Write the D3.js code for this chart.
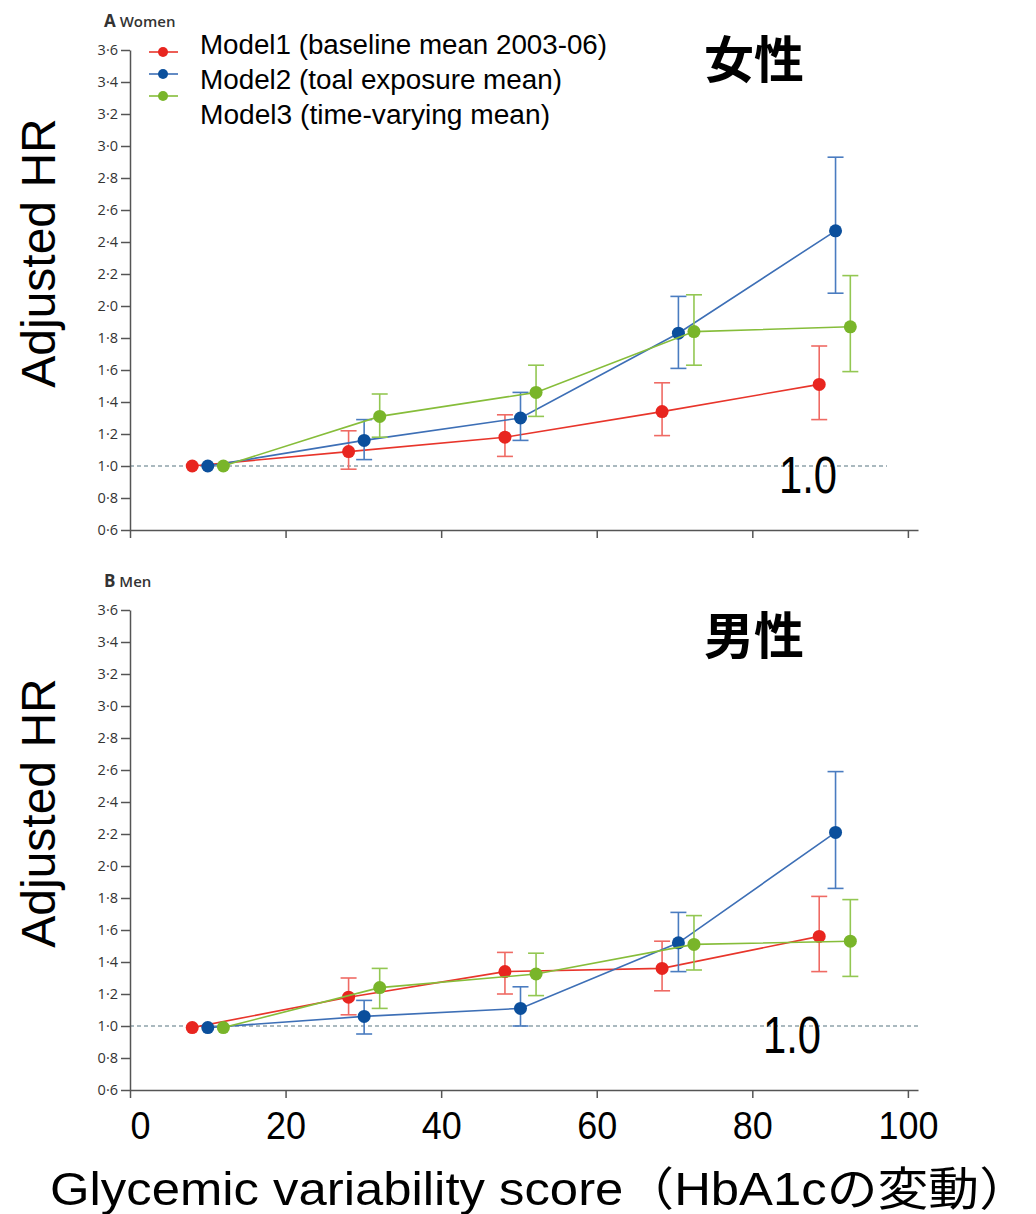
<!DOCTYPE html>
<html>
<head>
<meta charset="utf-8">
<script src="https://cdn.jsdelivr.net/npm/d3@7"></script>
<style>
  body { margin: 0; background: #fff; }
  .tick text { font-family: "Open Sans", sans-serif; }
</style>
</head>
<body>
<svg id="chart"></svg>
<script>
const w = 1036, h = 1214;

// x positions of each model's points (score)
const xModel1 = [8, 28.1, 48.2, 68.4, 88.6];
const xModel2 = [10, 30.1, 50.2, 70.5, 90.7];
const xModel3 = [12, 32.1, 52.2, 72.5, 92.6];

// women
const womenHR1 = [1.0, 1.09, 1.18, 1.34, 1.51];
const womenLo1 = [null, 0.98, 1.06, 1.19, 1.29];
const womenHi1 = [null, 1.22, 1.32, 1.52, 1.75];
const womenHR2 = [1.0, 1.16, 1.30, 1.83, 2.47];
const womenLo2 = [null, 1.04, 1.16, 1.61, 2.08];
const womenHi2 = [null, 1.29, 1.46, 2.06, 2.93];
const womenHR3 = [1.0, 1.31, 1.46, 1.84, 1.87];
const womenLo3 = [null, 1.18, 1.31, 1.63, 1.59];
const womenHi3 = [null, 1.45, 1.63, 2.07, 2.19];

// men
const menHR1 = [0.99, 1.18, 1.34, 1.36, 1.56];
const menLo1 = [null, 1.07, 1.20, 1.22, 1.34];
const menHi1 = [null, 1.30, 1.46, 1.53, 1.81];
const menHR2 = [0.99, 1.06, 1.11, 1.52, 2.21];
const menLo2 = [null, 0.95, 1.00, 1.34, 1.86];
const menHi2 = [null, 1.16, 1.245, 1.71, 2.59];
const menHR3 = [0.99, 1.24, 1.325, 1.51, 1.53];
const menLo3 = [null, 1.11, 1.19, 1.35, 1.31];
const menHi3 = [null, 1.36, 1.455, 1.69, 1.79];

const yTicks = [0.6, 0.8, 1.0, 1.2, 1.4, 1.6, 1.8, 2.0, 2.2, 2.4, 2.6, 2.8, 3.0, 3.2, 3.4, 3.6];
const xTicks = [0, 20, 40, 60, 80, 100];
const legendLabels = ['Model1 (baseline mean 2003-06)', 'Model2 (toal exposure mean)', 'Model3 (time-varying mean)'];

const lineColors = ['#e8352b', '#3d6fb6', '#86bd3a'];
const dotColors = ['#e8251f', '#0b4f9c', '#79b52a'];
const barColors = ['#ef6a64', '#4a7cc0', '#93c752'];

const chart = d3.select('#chart')
  .attr('width', w)
  .attr('height', h);

const xScale = d3.scaleLinear()
  .domain([0, 101.3])
  .range([130, 918]);

function makePanel(top, bottom, series, refEnd, letter, name, kanji, kanjiY, oneX) {
  const yScale = d3.scaleLinear()
    .domain([0.6, 3.6])
    .range([bottom, top]);

  const g = chart.append('g');

  // reference line at 1.0
  g.append('line')
    .attr('x1', xScale(0))
    .attr('x2', refEnd)
    .attr('y1', yScale(1))
    .attr('y2', yScale(1))
    .style('stroke', '#8fa3ab')
    .style('stroke-width', 1.5)
    .style('stroke-dasharray', '4,3');

  // axes
  const yAxis = g.append('g')
    .attr('transform', `translate(${xScale(0)}, 0)`)
    .call(d3.axisLeft(yScale)
      .tickValues(yTicks)
      .tickSize(9)
      .tickSizeOuter(0)
      .tickPadding(3)
      .tickFormat(d => d.toFixed(1).replace('.', '·')));

  const xAxis = g.append('g')
    .attr('transform', `translate(0, ${bottom})`)
    .call(d3.axisBottom(xScale)
      .tickValues(xTicks)
      .tickSize(8)
      .tickSizeOuter(0)
      .tickFormat(''));

  [yAxis, xAxis].forEach(a => {
    a.selectAll('path, line').style('stroke', '#555').style('stroke-width', 1.5);
    a.selectAll('text').style('font-size', '14.5px').style('fill', '#333');
  });

  // series
  series.forEach((s, k) => {
    const pts = s.hr.map((v, i) => ({ x: s.x[i], hr: v, lo: s.lo[i], hi: s.hi[i] }));

    g.append('path')
      .datum(pts)
      .attr('d', d3.line().x(d => xScale(d.x)).y(d => yScale(d.hr)))
      .style('fill', 'none')
      .style('stroke', lineColors[k])
      .style('stroke-width', 1.6);

    const bars = pts.filter(d => d.lo != null);
    const eb = g.append('g');
    eb.selectAll('line.v')
      .data(bars)
      .join('line')
      .attr('x1', d => xScale(d.x))
      .attr('x2', d => xScale(d.x))
      .attr('y1', d => yScale(d.lo))
      .attr('y2', d => yScale(d.hi))
      .style('stroke', barColors[k])
      .style('stroke-width', 1.6);
    ['lo', 'hi'].forEach(key => {
      eb.selectAll('line.' + key)
        .data(bars)
        .join('line')
        .attr('class', key)
        .attr('x1', d => xScale(d.x) - 8)
        .attr('x2', d => xScale(d.x) + 8)
        .attr('y1', d => yScale(d[key]))
        .attr('y2', d => yScale(d[key]))
        .style('stroke', barColors[k])
        .style('stroke-width', 1.6);
    });

    g.selectAll('circle.m' + k)
      .data(pts)
      .join('circle')
      .attr('class', 'm' + k)
      .attr('cx', d => xScale(d.x))
      .attr('cy', d => yScale(d.hr))
      .attr('r', 6.5)
      .style('fill', dotColors[k]);
  });

  // panel label
  const lab = g.append('text')
    .attr('x', 104)
    .attr('y', top - 23)
    .style('font-family', '"Open Sans", sans-serif')
    .style('fill', '#333');
  lab.append('tspan').text(letter).style('font-size', '17px').style('font-weight', 'bold');
  lab.append('tspan').text(' ' + name).style('font-size', '15px').style('font-weight', '600');

  // big kanji title
  g.append('text')
    .attr('x', 754)
    .attr('y', kanjiY)
    .attr('text-anchor', 'middle')
    .style('font-family', '"Noto Sans CJK JP", sans-serif')
    .style('font-weight', 'bold')
    .style('font-size', '50px')
    .text(kanji);

  // "1.0" annotation
  g.append('text')
    .attr('x', oneX)
    .attr('y', yScale(1) + 27)
    .attr('text-anchor', 'middle')
    .style('font-family', '"Liberation Sans", Arial, sans-serif')
    .style('font-size', '52px')
    .attr('textLength', 58)
    .attr('lengthAdjust', 'spacingAndGlyphs')
    .text('1.0');

  // y label
  g.append('text')
    .attr('transform', `translate(55, ${(top + bottom) / 2 - 37}) rotate(-90)`)
    .attr('text-anchor', 'middle')
    .style('font-family', '"Liberation Sans", Arial, sans-serif')
    .style('font-size', '48px')
    .text('Adjusted HR');

  return yScale;
}

const seriesWomen = [
  { x: xModel1, hr: womenHR1, lo: womenLo1, hi: womenHi1 },
  { x: xModel2, hr: womenHR2, lo: womenLo2, hi: womenHi2 },
  { x: xModel3, hr: womenHR3, lo: womenLo3, hi: womenHi3 }
];
const seriesMen = [
  { x: xModel1, hr: menHR1, lo: menLo1, hi: menHi1 },
  { x: xModel2, hr: menHR2, lo: menLo2, hi: menHi2 },
  { x: xModel3, hr: menHR3, lo: menLo3, hi: menHi3 }
];

makePanel(50, 530, seriesWomen, 887, 'A', 'Women', '女性', 78, 808);
makePanel(610, 1090, seriesMen, 918, 'B', 'Men', '男性', 654, 792);

// legend markers (original small legend, labels covered by overlay)
legendLabels.forEach((t, i) => {
  const y = 52 + i * 22;
  chart.append('line')
    .attr('x1', 149).attr('x2', 178)
    .attr('y1', y).attr('y2', y)
    .style('stroke', lineColors[i])
    .style('stroke-width', 1.6);
  chart.append('circle')
    .attr('cx', 163).attr('cy', y).attr('r', 5)
    .style('fill', dotColors[i]);
});

// white overlay box with large legend text
chart.append('rect')
  .attr('x', 183).attr('y', 8)
  .attr('width', 440).attr('height', 127)
  .style('fill', '#fff');

const legendWidths = [407, 362, 350];
legendLabels.forEach((t, i) => {
  chart.append('text')
    .attr('x', 200)
    .attr('y', 54 + i * 35)
    .style('font-family', '"Liberation Sans", sans-serif')
    .style('font-size', '27px')
    .attr('textLength', legendWidths[i])
    .attr('lengthAdjust', 'spacingAndGlyphs')
    .text(t);
});

// big x tick labels
const xLabels = chart.append('g')
  .attr('transform', `translate(0, 1090)`)
  .call(d3.axisBottom(xScale)
    .tickValues(xTicks)
    .tickSize(0)
    .tickPadding(22));
xLabels.select('.domain').remove();
xLabels.selectAll('text')
  .style('font-family', '"Liberation Sans", Arial, sans-serif')
  .style('font-size', '38px')
  .style('fill', '#000')
  .attr('dx', d => d === 0 ? 10 : 0)
  .attr('textLength', d => String(d).length * 20)
  .attr('lengthAdjust', 'spacingAndGlyphs');

// x axis title
chart.append('text')
  .attr('x', 50)
  .attr('y', 1205)
  .style('font-family', '"Liberation Sans", "Noto Sans CJK JP", sans-serif')
  .style('font-size', '46px')
  .attr('textLength', 980)
  .attr('lengthAdjust', 'spacingAndGlyphs')
  .text('Glycemic variability score（HbA1cの変動）');
</script>
</body>
</html>
